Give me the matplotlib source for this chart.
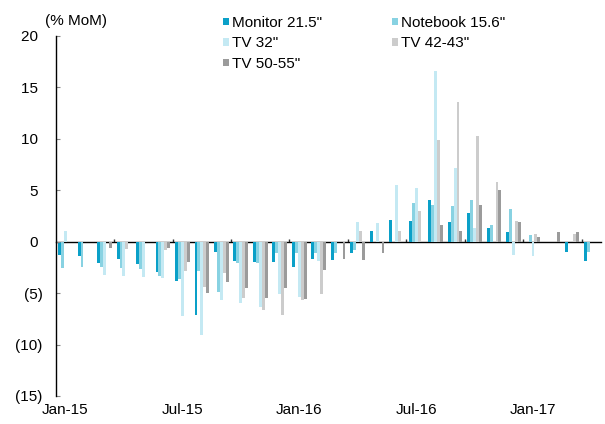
import numpy as np
import matplotlib.pyplot as plt
from matplotlib.ticker import FuncFormatter

plt.rcParams['font.family'] = ['Liberation Sans', 'DejaVu Sans']
plt.rcParams['font.size'] = 11

# monthly change, Jan-15 .. Apr-17
months = ['Jan-15', 'Feb-15', 'Mar-15', 'Apr-15', 'May-15', 'Jun-15',
          'Jul-15', 'Aug-15', 'Sep-15', 'Oct-15', 'Nov-15', 'Dec-15',
          'Jan-16', 'Feb-16', 'Mar-16', 'Apr-16', 'May-16', 'Jun-16',
          'Jul-16', 'Aug-16', 'Sep-16', 'Oct-16', 'Nov-16', 'Dec-16',
          'Jan-17', 'Feb-17', 'Mar-17', 'Apr-17']

monitor = [-1.3, -1.4, -2.1, -1.7, -2.2, -3.0, -3.8, -7.1, -1.0, -1.9,
           -2.0, -2.0, -2.5, -1.7, -1.8, -1.1, 1.0, 2.1, 2.0, 4.0,
           1.9, 2.8, 1.3, 0.9, 0.0, 0.0, -1.0, -1.9]
notebook = [-2.6, -2.5, -2.5, -2.6, -2.7, -3.3, -3.6, -2.9, -4.9, -2.1,
            -2.1, -1.1, -1.1, -1.1, -1.1, -0.8, 0.0, 0.0, 3.7, 3.6,
            3.5, 4.0, 1.6, 3.2, 0.6, 0.0, 0.0, -1.0]
tv32 = [1.0, 0.0, -3.2, -3.3, -3.4, -3.5, -7.2, -9.1, -5.7, -6.0,
        -6.4, -5.1, -5.4, -1.9, 0.0, 1.9, 1.8, 5.5, 5.2, 16.6,
        7.1, 1.3, 0.0, -1.3, -1.4, 0.0, 0.0, 0.0]
tv42 = [0.0, 0.0, 0.0, -0.7, 0.0, -0.8, -2.9, -4.4, -3.1, -5.5,
        -6.6, -7.1, -5.7, -5.1, 0.0, 1.0, 0.0, 1.0, 3.0, 9.9,
        13.6, 10.3, 5.8, 2.0, 0.7, 0.0, 0.7, 0.0]
tv50 = [0.0, 0.0, -0.6, 0.0, 0.0, -0.6, -2.0, -5.0, -3.9, -4.5,
        -5.5, -4.5, -5.6, -2.8, -1.7, -1.8, -1.1, 0.0, 0.0, 1.6,
        1.0, 3.6, 5.0, 1.9, 0.4, 0.9, 0.9, 0.0]

series = [monitor, notebook, tv32, tv42, tv50]
names = ['Monitor 21.5"', 'Notebook 15.6"', 'TV 32"', 'TV 42-43"', 'TV 50-55"']
colors = ['#0aa0c8', '#88d2e2', '#c4e9f3', '#cccccc', '#9b9b9b']

W, H = 605, 424
fig = plt.figure(figsize=(W / 100, H / 100), dpi=100)
ax = fig.add_axes([55.7 / W, 1 - 396 / H, 545.5 / W, 360.3 / H])

x = np.arange(len(months))
bw = 0.15
bars = []
for i, (vals, name, c) in enumerate(zip(series, names, colors)):
    b = ax.bar(x + (i - 2) * bw, vals, bw, color=c, linewidth=0, label=name)
    bars.append(b)

ax.set_xlim(-0.5, len(months) - 0.5)
ax.set_ylim(-15, 20)

for s in ['top', 'right', 'bottom']:
    ax.spines[s].set_visible(False)
ax.spines['left'].set_color('black')
ax.spines['left'].set_linewidth(1)

ax.set_yticks(range(-15, 21, 5))
ax.yaxis.set_major_formatter(FuncFormatter(
    lambda v, p: f'({abs(v):.0f})' if v < 0 else f'{v:.0f} '))
ax.tick_params(axis='y', direction='in', length=3, color='#888888', pad=9.5)

ax.set_xticks(x[::6])
ax.set_xticklabels(months[::6])
ax.tick_params(axis='x', length=0, pad=5)

# zero line with small ticks every quarter
zero = ax.secondary_xaxis(0, transform=ax.transData)
zero.set_xticks(np.arange(2.5, len(months) - 0.5, 3))
zero.set_xticklabels([])
zero.tick_params(direction='in', length=2.5, color='#333333', width=1)
zero.spines['bottom'].set_color('black')
zero.spines['bottom'].set_linewidth(1)

fig.text(45 / W, 1 - 21 / H, '(% MoM)', ha='left', va='center')

order = [0, 2, 4, 1, 3]
fig.legend([bars[i] for i in order], [names[i] for i in order],
           ncol=2, frameon=False, loc='upper left',
           bbox_to_anchor=(223 / W, 1 - 16 / H),
           handlelength=0.4, handleheight=0.4, handletextpad=0.2,
           columnspacing=4.55, labelspacing=0.42,
           borderpad=0, borderaxespad=0)

fig.savefig('out.png', dpi=100)
